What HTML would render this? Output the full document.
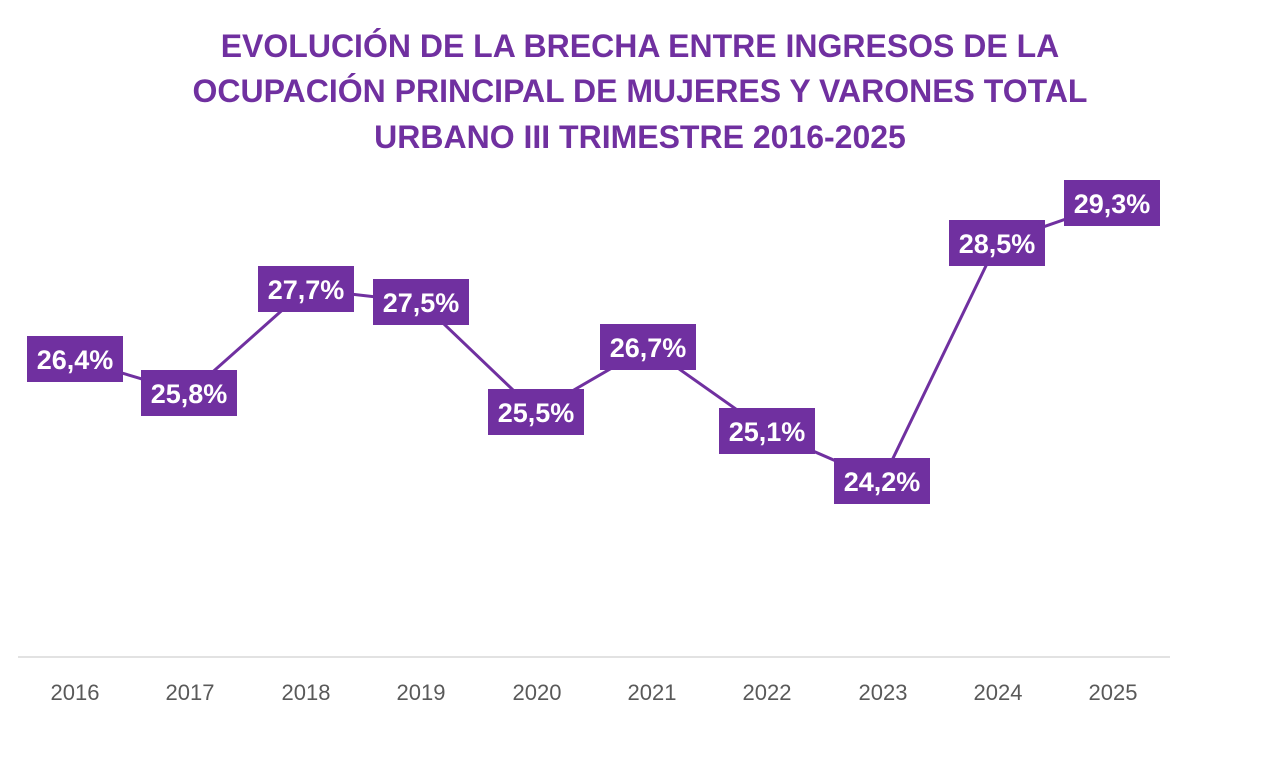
<!DOCTYPE html>
<html><head><meta charset="utf-8"><style>
html,body{margin:0;padding:0;background:#fff;width:1279px;height:776px;overflow:hidden}
</style></head><body>
<svg width="1279" height="776" xmlns="http://www.w3.org/2000/svg" font-family="'Liberation Sans', sans-serif">
<g fill="#7030A0" font-weight="bold" font-size="32" text-anchor="middle">
<text x="640" y="57">EVOLUCIÓN DE LA BRECHA ENTRE INGRESOS DE LA</text>
<text x="640" y="102">OCUPACIÓN PRINCIPAL DE MUJERES Y VARONES TOTAL</text>
<text x="640" y="148">URBANO III TRIMESTRE 2016-2025</text>
</g>
<line x1="18" y1="657" x2="1170" y2="657" stroke="#d9d9d9" stroke-width="1.5"/>
<g fill="#595959" font-size="22" text-anchor="middle">
<text x="75" y="700">2016</text><text x="190" y="700">2017</text><text x="306" y="700">2018</text>
<text x="421" y="700">2019</text><text x="537" y="700">2020</text><text x="652" y="700">2021</text>
<text x="767" y="700">2022</text><text x="883" y="700">2023</text><text x="998" y="700">2024</text>
<text x="1113" y="700">2025</text>
</g>
<polyline fill="none" stroke="#7030A0" stroke-width="3" points="75,359 189,393 306,289 421,302 536,412 648,347 767,431 882,481 997,243 1112,203"/>
<g font-size="27" font-weight="bold" fill="#fff" text-anchor="middle">
<rect x="27" y="336" width="96" height="46" fill="#7030A0"/><text x="75" y="369">26,4%</text>
<rect x="141" y="370" width="96" height="46" fill="#7030A0"/><text x="189" y="403">25,8%</text>
<rect x="258" y="266" width="96" height="46" fill="#7030A0"/><text x="306" y="299">27,7%</text>
<rect x="373" y="279" width="96" height="46" fill="#7030A0"/><text x="421" y="312">27,5%</text>
<rect x="488" y="389" width="96" height="46" fill="#7030A0"/><text x="536" y="422">25,5%</text>
<rect x="600" y="324" width="96" height="46" fill="#7030A0"/><text x="648" y="357">26,7%</text>
<rect x="719" y="408" width="96" height="46" fill="#7030A0"/><text x="767" y="441">25,1%</text>
<rect x="834" y="458" width="96" height="46" fill="#7030A0"/><text x="882" y="491">24,2%</text>
<rect x="949" y="220" width="96" height="46" fill="#7030A0"/><text x="997" y="253">28,5%</text>
<rect x="1064" y="180" width="96" height="46" fill="#7030A0"/><text x="1112" y="213">29,3%</text>
</g>
</svg>
</body></html>
